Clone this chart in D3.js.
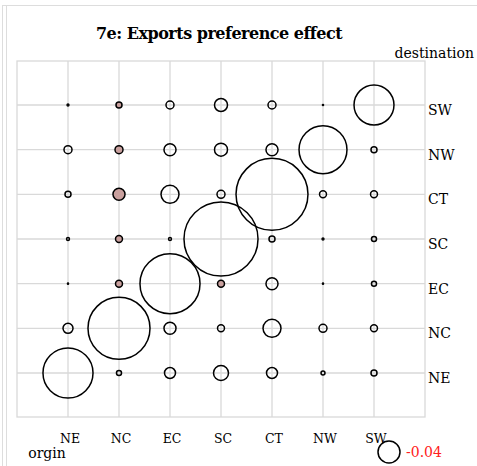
<!DOCTYPE html><html><head><meta charset="utf-8"><script src="https://cdn.jsdelivr.net/npm/d3@7"></script>
<style>body{margin:0;background:#fff}</style></head><body><svg id="c" width="477" height="466"></svg>
<script>
const regions = ["NE","NC","EC","SC","CT","NW","SW"];
// rows: destination, columns: origin (NE..SW)
const destSW = [0.0003,-0.003,0.0053,0.014,0.0053,0.0001,0.132];
const destNW = [0.0053,-0.0053,0.012,0.014,0.012,0.19,0.003];
const destCT = [0.003,-0.012,0.0268,0.0053,0.428,0.004,0.004];
const destSC = [0.0007,-0.004,0.0007,0.453,0.003,0.0003,0.0021];
const destEC = [0.0001,-0.004,0.298,-0.004,0.012,0.0001,0.0021];
const destNC = [0.0083,0.318,0.012,0.004,0.0268,0.0053,0.004];
const destNE = [0.207,0.0021,0.01,0.0186,0.01,0.0013,0.003];
const legendValue = -0.04;
const rows = {SW:destSW,NW:destNW,CT:destCT,SC:destSC,EC:destEC,NC:destNC,NE:destNE};

const svg = d3.select("#c");
svg.append("rect").attr("x",2.5).attr("y",5.5).attr("width",480).attr("height",470).attr("fill","none").attr("stroke","#ddd");
svg.append("line").attr("x1",6.5).attr("x2",6.5).attr("y1",5).attr("y2",466).attr("stroke","#ddd");
const L=17,R=425,T=61,B=417;
const x = d3.scalePoint().domain(regions).range([68,374]);
const y = d3.scalePoint().domain(regions).range([373,105]);
const r = d3.scaleSqrt().domain([0,0.04]).range([0,11]);
const g = svg.append("g");
g.append("rect").attr("x",L).attr("y",T).attr("width",R-L).attr("height",B-T).attr("fill","none").attr("stroke","#d9d9d9").attr("stroke-width",1.3);
regions.forEach(k=>{
 g.append("line").attr("x1",x(k)).attr("x2",x(k)).attr("y1",T).attr("y2",B).attr("stroke","#d9d9d9").attr("stroke-width",1.3);
 g.append("line").attr("y1",y(k)).attr("y2",y(k)).attr("x1",L).attr("x2",R).attr("stroke","#d9d9d9").attr("stroke-width",1.3);
});
const data=[];
Object.entries(rows).forEach(([d,arr])=>arr.forEach((v,i)=>data.push({o:regions[i],d,v})));
g.selectAll("circle.b").data(data).join("circle").attr("cx",d=>x(d.o)).attr("cy",d=>y(d.d))
 .attr("r",d=>r(Math.abs(d.v))).attr("fill",d=>d.v<0?"#c9a09e":"none").attr("stroke","#000").attr("stroke-width",1.5);
const f="'DejaVu Serif', serif";
svg.append("text").attr("x",219).attr("y",39).attr("text-anchor","middle").attr("font-family",f).attr("font-weight","bold").attr("font-size",16).attr("letter-spacing",-0.5).text("7e: Exports preference effect");
svg.append("text").attr("x",474).attr("y",58).attr("text-anchor","end").attr("font-family",f).attr("font-size",14).text("destination");
regions.forEach(k=>{
 svg.append("text").attr("x",428).attr("y",y(k)+10).attr("font-family",f).attr("font-size",14).text(k);
 svg.append("text").attr("x",x(k)+2).attr("y",443).attr("text-anchor","middle").attr("font-family",f).attr("font-size",12.5).text(k);
});
svg.append("text").attr("x",47).attr("y",458).attr("text-anchor","middle").attr("font-family",f).attr("font-size",14).text("orgin");
svg.append("circle").attr("cx",389).attr("cy",452).attr("r",r(Math.abs(legendValue))).attr("fill","none").attr("stroke","#000").attr("stroke-width",1.5);
svg.append("text").attr("x",406).attr("y",457).attr("font-family",f).attr("font-size",14).attr("fill","#ff2020").text(legendValue.toFixed(2));
</script></body></html>
